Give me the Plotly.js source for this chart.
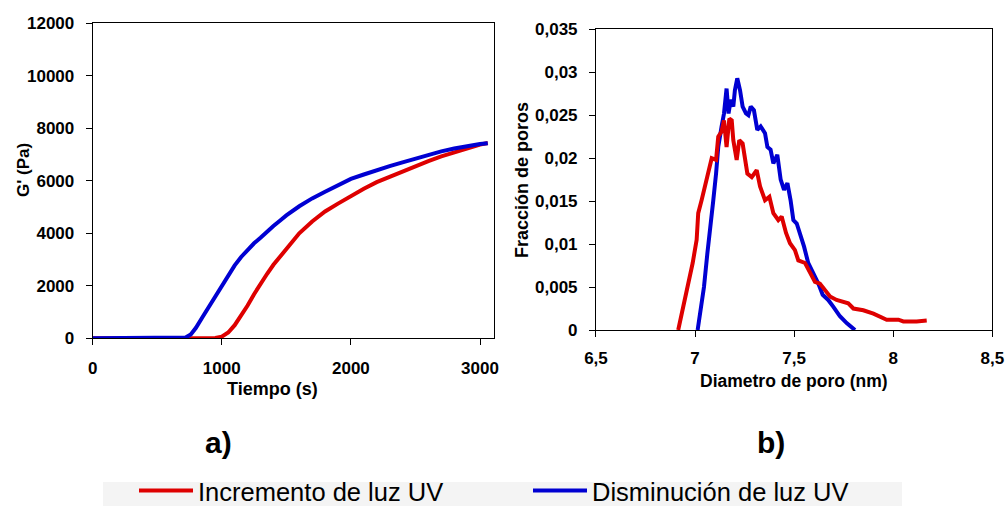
<!DOCTYPE html>
<html>
<head>
<meta charset="utf-8">
<script src="https://cdn.plot.ly/plotly-3.0.1.min.js"></script>
<style>html,body{margin:0;padding:0;background:#fff;}#chart{width:1005px;height:506px;}</style>
</head>
<body>
<div id="chart"></div>
<script>
// ---- Panel a) G' vs time ----
const timeInc = [0, 500, 900, 950, 1000, 1050, 1100, 1150, 1200, 1250, 1300, 1350, 1400, 1450, 1500, 1550, 1600, 1700, 1800, 1900, 2000, 2100, 2200, 2300, 2400, 2500, 2600, 2700, 2800, 2900, 3000, 3060];
const gInc    = [0, 0, 0, 10, 60, 220, 500, 850, 1250, 1680, 2080, 2450, 2800, 3100, 3420, 3720, 4000, 4450, 4830, 5130, 5420, 5700, 5950, 6160, 6350, 6550, 6750, 6930, 7090, 7250, 7380, 7440];
const timeDis = [0, 500, 680, 720, 760, 800, 850, 900, 950, 1000, 1050, 1100, 1150, 1200, 1250, 1300, 1350, 1400, 1450, 1500, 1600, 1700, 1800, 1900, 2000, 2100, 2200, 2300, 2400, 2500, 2600, 2700, 2800, 2900, 3000, 3060];
const gDis    = [0, 0, 0, 30, 150, 400, 800, 1200, 1600, 2050, 2450, 2780, 3100, 3380, 3620, 3830, 4080, 4280, 4480, 4680, 5030, 5330, 5580, 5820, 6070, 6240, 6410, 6560, 6700, 6850, 6990, 7120, 7230, 7330, 7400, 7430];

// ---- Panel b) pore fraction vs pore diameter ----
const diamInc = [6.915, 6.937, 6.966, 6.988, 7.008, 7.016, 7.033, 7.05, 7.067, 7.084, 7.106, 7.117, 7.134, 7.146, 7.159, 7.173, 7.185, 7.193, 7.21, 7.223, 7.24, 7.252, 7.264, 7.286, 7.311, 7.328, 7.353, 7.375, 7.395, 7.42, 7.437, 7.459, 7.479, 7.504, 7.521, 7.555, 7.58, 7.605, 7.63, 7.655, 7.681, 7.714, 7.748, 7.773, 7.799, 7.849, 7.9, 7.933, 7.967, 8.026, 8.051, 8.118, 8.169];
const fracInc = [0, 0.0023, 0.005, 0.0078, 0.0105, 0.0136, 0.0151, 0.0167, 0.0186, 0.02, 0.0198, 0.0225, 0.0231, 0.0244, 0.0213, 0.0246, 0.0244, 0.0221, 0.0198, 0.0221, 0.0217, 0.0202, 0.0182, 0.0178, 0.0186, 0.0167, 0.0151, 0.0155, 0.0136, 0.0128, 0.0132, 0.0113, 0.0101, 0.0093, 0.0081, 0.0078, 0.0066, 0.0056, 0.0054, 0.0047, 0.0039, 0.0035, 0.0033, 0.0031, 0.0025, 0.0023, 0.0019, 0.0016, 0.0012, 0.0012, 0.001, 0.001, 0.0011];
const diamDis = [7.013, 7.025, 7.045, 7.062, 7.079, 7.092, 7.106, 7.117, 7.134, 7.146, 7.159, 7.169, 7.18, 7.193, 7.201, 7.213, 7.227, 7.24, 7.257, 7.269, 7.281, 7.297, 7.314, 7.331, 7.353, 7.365, 7.381, 7.395, 7.415, 7.432, 7.449, 7.466, 7.482, 7.496, 7.513, 7.529, 7.55, 7.571, 7.597, 7.622, 7.644, 7.672, 7.698, 7.731, 7.765, 7.799, 7.807];
const fracDis = [0, 0.0019, 0.005, 0.0089, 0.012, 0.0151, 0.0182, 0.0213, 0.0237, 0.0252, 0.0281, 0.0252, 0.0268, 0.026, 0.0279, 0.0293, 0.0279, 0.026, 0.0252, 0.025, 0.026, 0.0256, 0.0233, 0.0237, 0.0229, 0.0213, 0.021, 0.0194, 0.0204, 0.0175, 0.0163, 0.0171, 0.0151, 0.0128, 0.0124, 0.0113, 0.0097, 0.0078, 0.0066, 0.0054, 0.0041, 0.0035, 0.0027, 0.0016, 0.0008, 0.0002, 0];

// ---- Tick labels ----
const tickTimeVals = [0, 1000, 2000, 3000];
const tickTimeText = ['0', '1000', '2000', '3000'];
const tickGVals = [0, 2000, 4000, 6000, 8000, 10000, 12000];
const tickGText = ['0', '2000', '4000', '6000', '8000', '10000', '12000'];
const tickDiamVals = [6.5, 7, 7.5, 8, 8.5];
const tickDiamText = ['6,5', '7', '7,5', '8', '8,5'];
const tickFracVals = [0, 0.005, 0.01, 0.015, 0.02, 0.025, 0.03, 0.035];
const tickFracText = ['0', '0,005', '0,01', '0,015', '0,02', '0,025', '0,03', '0,035'];

const seriesNames = ['Incremento de luz UV', 'Disminución de luz UV'];
const axisTitles = ['Tiempo (s)', "G' (Pa)", 'Diametro de poro (nm)', 'Fracción de poros'];
const panelLabels = ['a)', 'b)'];
const RED = 'rgb(222,0,0)';
const BLUE = 'rgb(0,0,210)';

const FONT = 'Liberation Sans, Arial, Helvetica, sans-serif';
const tickFont = {family: FONT, size: 17, color: '#000', weight: 700};
const titleFont = {family: FONT, size: 18, color: '#000', weight: 700};

const traces = [
  {x: timeInc, y: gInc, xaxis: 'x', yaxis: 'y', type: 'scatter', mode: 'lines', name: seriesNames[0],
   line: {color: RED, width: 4}, showlegend: true},
  {x: timeDis, y: gDis, xaxis: 'x', yaxis: 'y', type: 'scatter', mode: 'lines', name: seriesNames[1],
   line: {color: BLUE, width: 4}, showlegend: true},
  {x: diamDis, y: fracDis, xaxis: 'x2', yaxis: 'y2', type: 'scatter', mode: 'lines', name: seriesNames[1],
   line: {color: BLUE, width: 4}, showlegend: false},
  {x: diamInc, y: fracInc, xaxis: 'x2', yaxis: 'y2', type: 'scatter', mode: 'lines', name: seriesNames[0],
   line: {color: RED, width: 4}, showlegend: false}
];

const axBase = {
  showline: true, mirror: true, linecolor: '#000', linewidth: 1,
  showgrid: false, zeroline: false, ticks: 'outside', tickcolor: '#000', tickwidth: 1,
  tickfont: tickFont, tickmode: 'array', automargin: false
};

function titleAnn(text, x, y, angle, size) {
  return {text: text, xref: 'paper', yref: 'paper', x: x / 1005, y: 1 - y / 506, showarrow: false,
          textangle: angle, font: Object.assign({}, titleFont, {size: size}), xanchor: 'center', yanchor: 'middle'};
}
function panelAnn(text, x, y) {
  return {text: text, xref: 'paper', yref: 'paper', x: x / 1005, y: 1 - y / 506, showarrow: false,
          font: {family: FONT, size: 30, color: '#000', weight: 700}, xanchor: 'center', yanchor: 'middle'};
}

const layout = {
  width: 1005, height: 506,
  margin: {l: 0, r: 0, t: 0, b: 0, autoexpand: false},
  paper_bgcolor: '#fff', plot_bgcolor: '#fff',
  xaxis: Object.assign({}, axBase, {
    domain: [0.0922, 0.4915], range: [0, 3108], anchor: 'y',
    tickvals: tickTimeVals, ticktext: tickTimeText, ticklen: 6, ticklabelstandoff: 8
  }),
  yaxis: Object.assign({}, axBase, {
    domain: [0.3314, 0.954], range: [0, 12000], anchor: 'x',
    tickvals: tickGVals, ticktext: tickGText, ticklen: 6, ticklabelstandoff: 8
  }),
  xaxis2: Object.assign({}, axBase, {
    domain: [0.593, 0.9874], range: [6.5, 8.5], anchor: 'y2',
    tickvals: tickDiamVals, ticktext: tickDiamText, ticklen: 6, ticklabelstandoff: 7
  }),
  yaxis2: Object.assign({}, axBase, {
    domain: [0.3478, 0.9421], range: [0, 0.035], anchor: 'x2',
    tickvals: tickFracVals, ticktext: tickFracText, ticklen: 6, ticklabelstandoff: 8
  }),
  showlegend: true,
  legend: {
    orientation: 'h', x: 134 / 1005, xanchor: 'left', y: 1 - 491 / 506, yanchor: 'middle',
    bgcolor: 'rgba(0,0,0,0)', borderwidth: 0,
    font: {family: 'Liberation Sans Narrow, Arial Narrow, Liberation Sans, Arial, sans-serif', size: 25.5, color: '#000'},
    itemwidth: 54, entrywidth: 325, entrywidthmode: 'pixels', tracegroupgap: 0,
    itemclick: false, itemdoubleclick: false
  },
  shapes: [
    {type: 'rect', xref: 'paper', yref: 'paper', x0: 103 / 1005, x1: 902 / 1005, y0: -0.01, y1: (506 - 482) / 506,
     fillcolor: '#f4f4f4', line: {width: 0}, layer: 'below'}
  ],
  annotations: [
    titleAnn(axisTitles[0], 272, 389, 0, 18),
    titleAnn(axisTitles[1], 23, 170, -90, 17),
    titleAnn(axisTitles[2], 794, 381, 0, 17.5),
    titleAnn(axisTitles[3], 522, 180, -90, 18),
    panelAnn(panelLabels[0], 218, 442),
    panelAnn(panelLabels[1], 771, 442)
  ]
};

Plotly.newPlot('chart', traces, layout, {staticPlot: true, displayModeBar: false});
</script>
</body>
</html>
